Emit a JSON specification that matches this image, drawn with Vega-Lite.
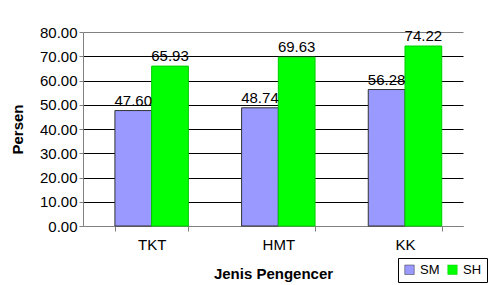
{
  "$schema": "https://vega.github.io/schema/vega-lite/v6.json",
  "autosize": "none",
  "width": 380,
  "height": 194,
  "padding": {"left": 83, "top": 32, "right": 25, "bottom": 59},
  "background": "white",
  "config": {
    "font": "Liberation Sans",
    "view": {"stroke": null},
    "axis": {"labelFont": "Liberation Sans", "titleFont": "Liberation Sans", "labelColor": "black", "titleColor": "black"}
  },
  "data": {
    "values": [
      {"kategori": "TKT", "seri": "SM", "nilai": 47.60},
      {"kategori": "TKT", "seri": "SH", "nilai": 65.93},
      {"kategori": "HMT", "seri": "SM", "nilai": 48.74},
      {"kategori": "HMT", "seri": "SH", "nilai": 69.63},
      {"kategori": "KK", "seri": "SM", "nilai": 56.28},
      {"kategori": "KK", "seri": "SH", "nilai": 74.22}
    ]
  },
  "encoding": {
    "x": {
      "field": "kategori", "type": "nominal", "sort": ["TKT", "HMT", "KK"],
      "scale": {"paddingInner": 0.42, "paddingOuter": 0.21, "align": 0.6},
      "axis": {
        "title": "Jenis Pengencer", "titleFontSize": 15, "titleFontWeight": "bold", "titlePadding": 14,
        "labelAngle": 0, "labelFontSize": 15, "labelPadding": 6,
        "tickBand": "extent", "domainColor": "#808080", "tickColor": "#808080", "tickSize": 5
      }
    },
    "xOffset": {"field": "seri", "type": "nominal", "sort": ["SM", "SH"]},
    "y": {
      "field": "nilai", "type": "quantitative",
      "scale": {"domain": [0, 80], "nice": false},
      "axis": {
        "title": "Persen", "titleFontSize": 15, "titleFontWeight": "bold", "titlePadding": 14,
        "values": [0, 10, 20, 30, 40, 50, 60, 70, 80], "format": ".2f",
        "labelFontSize": 15, "labelPadding": 2, "tickSize": 4,
        "domainColor": "#808080", "tickColor": "#808080",
        "gridColor": {"condition": {"test": "datum.value === 0 || datum.value === 80", "value": "#808080"}, "value": "black"},
        "gridWidth": 1
      }
    }
  },
  "layer": [
    {
      "mark": {"type": "bar", "stroke": null},
      "encoding": {
        "color": {
          "field": "seri", "type": "nominal", "sort": ["SM", "SH"],
          "scale": {"domain": ["SM", "SH"], "range": ["#9999FF", "#00FF00"]},
          "legend": {
            "title": null, "orient": "none", "legendX": 315, "legendY": 226,
            "direction": "horizontal", "symbolType": "square", "symbolSize": 90,
            "symbolStrokeColor": "black", "symbolStrokeWidth": 0.5,
            "labelFontSize": 13, "labelFont": "Liberation Sans", "labelColor": "black",
            "strokeColor": "black", "padding": 5, "columnPadding": 6, "labelOffset": 4
          }
        },
        "stroke": {
          "field": "seri", "type": "nominal",
          "scale": {"domain": ["SM", "SH"], "range": ["#333333", "#00CC00"]},
          "legend": null
        }
      }
    },
    {
      "mark": {"type": "text", "baseline": "bottom", "dy": -2, "fontSize": 15, "font": "Liberation Sans", "color": "black"},
      "encoding": {
        "text": {"field": "nilai", "type": "quantitative", "format": ".2f"}
      }
    }
  ]
}
